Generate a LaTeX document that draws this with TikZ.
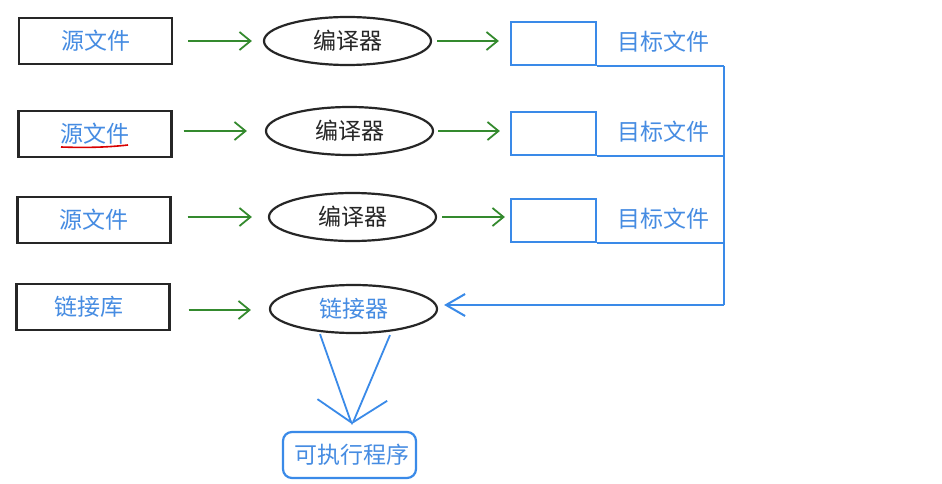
\documentclass[tikz,border=0pt]{standalone}
\usepackage{fontspec}
\newfontfamily\cjk{Noto Sans CJK SC}
\usetikzlibrary{arrows.meta,shapes.geometric}
\definecolor{txtblue}{RGB}{70,140,226}
\definecolor{lnblue}{RGB}{58,138,232}
\definecolor{arrgreen}{RGB}{52,138,46}
\begin{document}
\begin{tikzpicture}[x=1pt,y=-1pt,
  cjkfont/.style={font=\cjk\fontsize{23}{23}\selectfont},
  srcbox/.style={draw=black!85,line width=2.4pt,minimum width=153pt,minimum height=46pt,inner sep=0pt,text=txtblue,cjkfont},
  ell/.style={ellipse,draw=black!85,line width=2.2pt,minimum width=167pt,minimum height=48pt,inner sep=0pt,text=black!85,cjkfont},
  tgtbox/.style={draw=lnblue,line width=2.2pt,minimum width=85pt,minimum height=43pt,inner sep=0pt},
  tgtlabel/.style={text=txtblue,cjkfont,inner sep=0pt},
  garrow/.style={draw=arrgreen,line width=1.8pt,-{Straight Barb[length=11pt,width=18pt,line width=1.8pt]}},
  barrow/.style={draw=lnblue,line width=2pt,-{Straight Barb[length=19pt,width=22pt,line width=2pt]}},
  leftbig/.style={draw=lnblue,line width=1.8pt,-{Straight Barb[length=33pt,width=48pt,line width=1.8pt,right]}},
  rightbig/.style={draw=lnblue,line width=1.8pt,-{Straight Barb[length=33pt,width=46pt,line width=1.8pt,left]}},
  blueline/.style={draw=lnblue,line width=2.2pt}
]
\useasboundingbox (0,0) rectangle (942,484);
\fill[white] (0,0) rectangle (942,484);

% source boxes
\node[srcbox] (s1) at (95.5,41) {源文件};
\node[srcbox] (s2) at (95,134) {源文件};
\node[srcbox] (s3) at (94,220) {源文件};
\node[srcbox] (s4) at (93,307) {链接库\kern9pt\null};

% ellipses
\node[ell] (c1) at (347.5,41) {编译器};
\node[ell] (c2) at (349.5,131) {编译器};
\node[ell] (c3) at (352.5,217) {编译器};
\node[ell,text=txtblue] (lk) at (353.5,309) {链接器};

% target boxes
\node[tgtbox] (t1) at (553.5,43.5) {};
\node[tgtbox] (t2) at (553.5,133.5) {};
\node[tgtbox] (t3) at (553.5,220.5) {};
\node[tgtlabel] (l1) at (663,42) {目标文件};
\node[tgtlabel] (l2) at (663,132) {目标文件};
\node[tgtlabel] (l3) at (663,219) {目标文件};

% executable
\node[draw=lnblue,line width=2.2pt,rounded corners=9pt,minimum width=133pt,minimum height=46pt,inner sep=0pt,text=txtblue,cjkfont] (ex) at (349.5,455) {\hspace{4pt}可执行程序};

% red underline
\draw[red!85!black,line width=1.6pt] (61,147) .. controls (90,148) and (110,147) .. (128,145);

% green arrows
\draw[garrow,shorten <=15pt,shorten >=11pt] (s1.east) -- (s1.east -| c1.west);
\draw[garrow,shorten <=11pt,shorten >=18pt] (c2.west -| s2.east) -- (c2.west);
\draw[garrow,shorten <=16pt,shorten >=16pt] (c3.west -| s3.east) -- (c3.west);
\draw[garrow,shorten <=18pt,shorten >=18pt] ([yshift=-3pt]s4.east) -- ([yshift=-3pt]s4.east -| lk.west);
\draw[garrow,shorten <=5pt,shorten >=11pt] (c1.east) -- (c1.east -| t1.west);
\draw[garrow,shorten <=4pt,shorten >=10pt] (c2.east) -- (c2.east -| t2.west);
\draw[garrow,shorten <=5pt,shorten >=5pt] (c3.east) -- (c3.east -| t3.west);

% blue bus
\coordinate (j1) at (724,64);
\coordinate (j4) at (724,305);
\draw[blueline] (t1.south east) -- (t1.south east -| j1);
\draw[blueline] (t2.south east) -- (t2.south east -| j1);
\draw[blueline] (t3.south east) -- (t3.south east -| j1);
\draw[blueline] (t1.south east -| j1) -- (j4);
\draw[barrow,shorten >=6pt] (j4) -- (lk.east |- j4);

% linker to executable
\coordinate (tip) at ([xshift=2.5pt,yshift=6pt]ex.north);
\draw[leftbig] ([xshift=-33.5pt]lk.south) -- (tip);
\draw[rightbig] ([xshift=36.5pt,yshift=-1pt]lk.south) -- (tip);
\end{tikzpicture}
\end{document}
